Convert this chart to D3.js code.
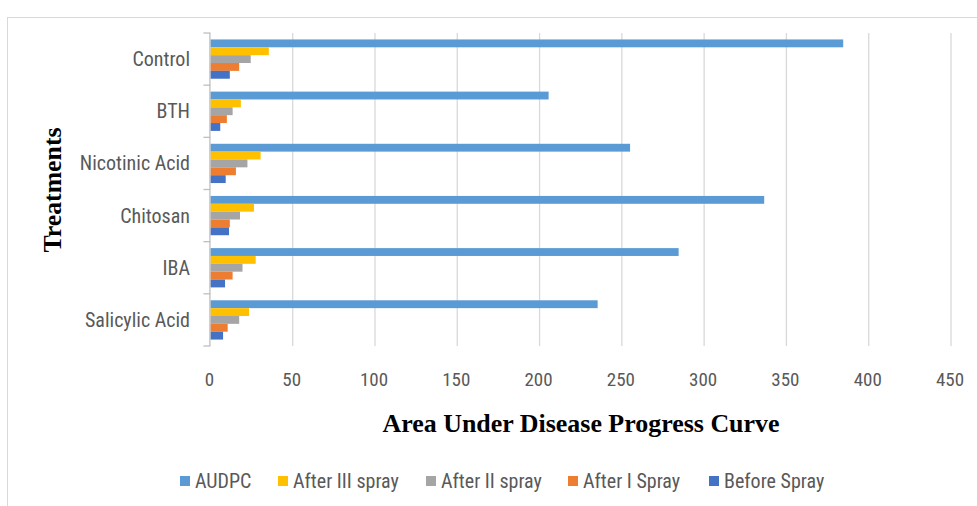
<!DOCTYPE html>
<html>
<head>
<meta charset="utf-8">
<script src="https://cdn.jsdelivr.net/npm/d3@7"></script>
<style>
  body { margin: 0; background: #fff; }
  svg { display: block; }
</style>
</head>
<body>
<svg></svg>
<script>
// data
var treatments = ["Control", "BTH", "Nicotinic Acid", "Chitosan", "IBA", "Salicylic Acid"];
var seriesNames = ["AUDPC", "After III spray", "After II spray", "After I Spray", "Before Spray"];
var audpc       = [384.5, 205.5, 255, 336.5, 284.5, 235.3];
var afterIII    = [35.5, 18.5, 30.5, 26.5, 27.5, 23.5];
var afterII     = [24.5, 13.5, 22.5, 18, 19.5, 17.5];
var afterI      = [17.5, 10, 15.5, 11.8, 13.5, 10.5];
var beforeSpray = [11.8, 6, 9.3, 11.3, 8.9, 7.7];
var xTicks = [0, 50, 100, 150, 200, 250, 300, 350, 400, 450];

var colors = ["#5B9BD5", "#FFC000", "#A5A5A5", "#ED7D31", "#4472C4"];
var allSeries = [audpc, afterIII, afterII, afterI, beforeSpray];

// build rows for drawing
var rows = treatments.map(function (t, i) {
  return {
    name: t,
    values: seriesNames.map(function (s, j) { return { key: s, value: allSeries[j][i] }; })
  };
});

var W = 977, H = 506;
var svg = d3.select("svg").attr("width", W).attr("height", H);
var txtFont = "'Liberation Sans Narrow', 'Roboto Condensed', 'Liberation Sans', sans-serif";
var serif = "'Liberation Serif', 'Times New Roman', serif";

// outer frame
svg.append("rect")
  .attr("x", 7.5).attr("y", 17.5)
  .attr("width", 1000).attr("height", 1000)
  .attr("fill", "#fff")
  .attr("stroke", "#d9d9d9");

// scales
var x = d3.scaleLinear().domain([0, 450]).range([210.4, 951]);
var y0 = d3.scaleBand().domain(treatments).range([33, 346]).padding(0);
var y1 = d3.scaleBand().domain(seriesNames).range([0, y0.bandwidth()])
  .paddingInner(0).paddingOuter(0.82);

// gridlines
svg.append("g")
  .selectAll("line")
  .data(xTicks.slice(1))
  .enter().append("line")
  .attr("x1", function (d) { return x(d); })
  .attr("x2", function (d) { return x(d); })
  .attr("y1", 33).attr("y2", 346)
  .attr("stroke", "#d9d9d9").attr("stroke-width", 1.3);

// bars
var groups = svg.append("g")
  .selectAll("g")
  .data(rows)
  .enter().append("g")
  .attr("transform", function (d) { return "translate(0," + y0(d.name) + ")"; });

groups.selectAll("rect")
  .data(function (d) { return d.values; })
  .enter().append("rect")
  .attr("x", x(0))
  .attr("y", function (d) { return y1(d.key); })
  .attr("height", y1.bandwidth())
  .attr("width", function (d) { return x(d.value) - x(0); })
  .attr("fill", function (d, i) { return colors[i]; });

// y axis (category) line and ticks
var yAxis = svg.append("g");
yAxis.append("line")
  .attr("x1", x(0) - 0.5).attr("x2", x(0) - 0.5)
  .attr("y1", 33).attr("y2", 346)
  .attr("stroke", "#bfbfbf").attr("stroke-width", 1.3);
var bounds = treatments.map(function (t) { return y0(t); }).concat([y0.range()[1]]);
yAxis.selectAll("line.tk")
  .data(bounds)
  .enter().append("line")
  .attr("class", "tk")
  .attr("x1", x(0) - 7).attr("x2", x(0))
  .attr("y1", function (d) { return d; })
  .attr("y2", function (d) { return d; })
  .attr("stroke", "#bfbfbf").attr("stroke-width", 1.3);

yAxis.selectAll("text")
  .data(treatments)
  .enter().append("text")
  .attr("x", 190)
  .attr("y", function (d) { return y0(d) + y0.bandwidth() / 2; })
  .attr("dy", "0.35em")
  .attr("text-anchor", "end")
  .style("font-family", txtFont)
  .style("font-size", "20px")
  .attr("fill", "#595959")
  .text(function (d) { return d; });

// x tick labels
svg.append("g")
  .selectAll("text")
  .data(xTicks)
  .enter().append("text")
  .attr("x", function (d) { return x(d) - 1; })
  .attr("y", 379)
  .attr("dy", "0.35em")
  .attr("text-anchor", "middle")
  .style("font-family", txtFont)
  .style("font-size", "19px")
  .attr("fill", "#595959")
  .text(function (d) { return d; });

// axis titles
svg.append("text")
  .attr("x", 581).attr("y", 423)
  .attr("dy", "0.35em")
  .attr("text-anchor", "middle")
  .style("font-family", serif)
  .style("font-weight", "bold")
  .style("font-size", "25px")
  .attr("textLength", 397)
  .attr("lengthAdjust", "spacingAndGlyphs")
  .text("Area Under Disease Progress  Curve");

svg.append("text")
  .attr("transform", "translate(52,190) rotate(-90)")
  .attr("dy", "0.35em")
  .attr("text-anchor", "middle")
  .style("font-family", serif)
  .style("font-weight", "bold")
  .style("font-size", "25px")
  .attr("textLength", 125)
  .attr("lengthAdjust", "spacingAndGlyphs")
  .text("Treatments");

// legend
var legendX = [180, 278, 426, 568, 709];
var legend = svg.append("g")
  .selectAll("g")
  .data(seriesNames)
  .enter().append("g")
  .attr("transform", function (d, i) { return "translate(" + legendX[i] + ",481)"; });
legend.append("rect")
  .attr("x", 0).attr("y", -5)
  .attr("width", 10).attr("height", 10)
  .attr("fill", function (d, i) { return colors[i]; });
legend.append("text")
  .attr("x", 15).attr("y", 0)
  .attr("dy", "0.35em")
  .style("font-family", txtFont)
  .style("font-size", "20px")
  .attr("fill", "#595959")
  .text(function (d) { return d; });
</script>
</body>
</html>
